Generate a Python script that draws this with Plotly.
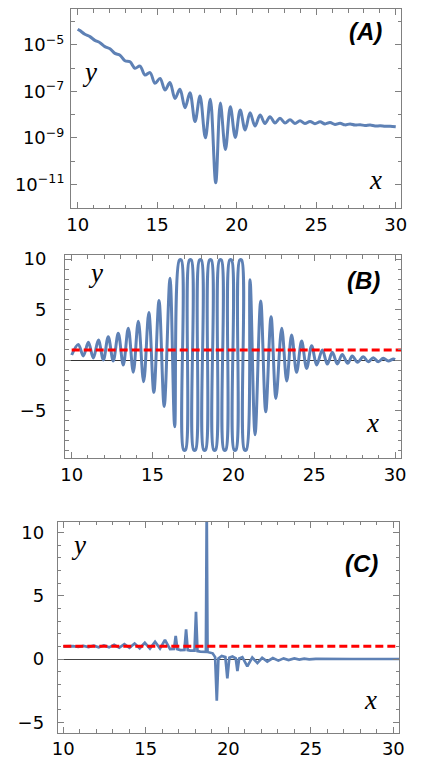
import plotly.graph_objects as go

# panel A: x and log10(y) (peaks and dips)
a_x = [10.00, 10.14, 10.45, 10.77, 11.08, 11.40, 11.71, 12.03, 12.34, 12.66, 12.97,
       13.29, 13.60, 13.92, 14.23, 14.55, 14.86, 15.18, 15.49, 15.80, 16.12, 16.43,
       16.75, 17.06, 17.38, 17.69, 18.03, 18.34, 18.68, 18.97, 19.29, 19.60, 19.91,
       20.22, 20.53, 20.84, 21.15, 21.47, 21.78, 22.09, 22.41, 22.72, 23.04, 23.35,
       23.66, 23.98, 24.29, 24.61, 24.92, 25.24, 25.55, 25.87, 26.18, 26.50, 26.81,
       27.13, 27.44, 27.76, 28.07, 28.39, 28.70, 29.02, 29.33, 29.65, 30.00]
a_log10 = [-4.32, -4.38, -4.54, -4.64, -4.80, -4.90, -5.07, -5.16, -5.36, -5.44, -5.68,
           -5.72, -6.00, -5.91, -6.29, -6.19, -6.65, -6.44, -6.94, -6.62, -7.30, -6.91,
           -7.70, -7.06, -8.30, -7.20, -9.00, -7.34, -10.93, -7.50, -9.50, -7.66, -8.98,
           -7.80, -8.66, -7.92, -8.49, -8.02, -8.38, -8.09, -8.36, -8.16, -8.36, -8.22,
           -8.38, -8.26, -8.38, -8.29, -8.39, -8.31, -8.40, -8.34, -8.42, -8.37, -8.44,
           -8.40, -8.45, -8.43, -8.47, -8.45, -8.49, -8.48, -8.50, -8.50, -8.52]
a_y = [10 ** v for v in a_log10]

# panel B (the tall swings are cut flat at 9.9 and -8.9)
b_x = [10.00, 10.41, 10.72, 11.03, 11.34, 11.65, 11.96, 12.26, 12.57, 12.88, 13.19,
       13.50, 13.81, 14.12, 14.45, 14.77, 15.08, 15.40, 15.72, 16.08, 16.37,
       16.66, 16.78, 16.92, 17.04, 17.28, 17.40, 17.54, 17.66, 17.90, 18.02,
       18.16, 18.28, 18.52, 18.64, 18.78, 18.90, 19.14, 19.26, 19.41, 19.53,
       19.77, 19.89, 20.04, 20.16, 20.39, 20.51, 20.68, 20.80,
       21.03, 21.34, 21.69, 22.00, 22.33, 22.63, 22.99, 23.30, 23.60,
       23.91, 24.22, 24.53, 24.84, 25.15, 25.50, 25.81, 26.12, 26.43, 26.73, 27.07,
       27.35, 27.68, 28.03, 28.34, 28.65, 28.96, 29.27, 29.58, 29.89, 30.00]
b_y = [0.50, 1.55, 0.40, 1.75, 0.20, 1.98, 0.00, 2.30, -0.10, 2.64, -0.50,
       3.14, -1.20, 3.85, -2.15, 4.70, -3.20, 5.90, -4.60, 8.09, -6.60,
       9.90, 9.90, -8.90, -8.90, 9.90, 9.90, -8.90, -8.90, 9.90, 9.90,
       -8.90, -8.90, 9.90, 9.90, -8.90, -8.90, 9.90, 9.90, -8.90, -8.90,
       9.90, 9.90, -8.90, -8.90, 9.90, 9.90, -8.90, -8.90,
       7.95, -7.40, 5.84, -5.12, 4.29, -3.80, 3.14, -2.08, 2.48,
       -1.22, 1.88, -0.83, 1.42, -0.50, 0.99, -0.40, 0.76, -0.40, 0.56, -0.33,
       0.40, -0.23, 0.33, -0.17, 0.23, -0.17, 0.17, -0.10, 0.10, 0.05]

# panel C
c_x = [10.00, 10.60, 10.91, 11.22, 11.53, 11.84, 12.15, 12.46, 12.77, 13.08, 13.39,
       13.70, 14.01, 14.32, 14.63, 14.94, 15.25, 15.56, 15.86, 16.16, 16.47, 16.71,
       16.81, 16.91, 17.10, 17.34, 17.44, 17.54, 17.70, 17.95, 18.04, 18.13, 18.30,
       18.64, 18.69, 18.74, 19.05, 19.20, 19.30, 19.40, 19.60, 19.82, 19.94, 20.06,
       20.25, 20.45, 20.55, 20.66, 20.85, 21.15, 21.45, 21.76, 22.05, 22.36, 22.70,
       23.03, 23.35, 23.65, 24.00, 24.30, 24.60, 24.90, 25.30, 26.00, 27.50, 29.00,
       30.40]
c_y = [1.00, 1.02, 0.95, 1.03, 0.94, 1.05, 0.93, 1.08, 0.92, 1.12, 0.90,
       1.17, 0.88, 1.22, 0.85, 1.28, 0.82, 1.37, 0.82, 1.50, 0.78, 0.80,
       1.82, 0.78, 0.71, 0.72, 2.35, 0.70, 0.66, 0.66, 3.74, 0.62, 0.58,
       0.56, 12.0, 0.55, 0.45, 0.15, -3.30, 0.05, 0.24, 0.15, -1.53, 0.10,
       0.20, 0.05, -0.95, 0.05, 0.15, -0.58, 0.12, -0.32, 0.10, -0.20, 0.07,
       -0.13, 0.05, -0.08, 0.04, -0.05, 0.03, -0.03, 0.01, -0.01, 0.00, 0.00,
       0.00]

# dashed reference level in B and C
ref_x = [10.0, 31.0]
ref_y = [1.0, 1.0]

x_ticks = [10, 15, 20, 25, 30]
x_minor = list(range(10, 31))
a_ticks = [1e-11, 1e-9, 1e-7, 1e-5]
a_ticktext = ["10<sup>\u221211</sup>", "10<sup>\u22129</sup>", "10<sup>\u22127</sup>", "10<sup>\u22125</sup>"]
a_minor = [1e-12, 1e-10, 1e-8, 1e-6, 1e-4]
bc_ticks = [-5, 0, 5, 10]
bc_ticktext = ["\u22125", "0", "5", "10"]
bc_minor = list(range(-9, 11))

BLUE = "#5E81B5"
FRAME = "#808080"
TICKFONT = dict(family="DejaVu Sans", size=18, color="black")

fig = go.Figure()
fig.add_trace(go.Scatter(x=a_x, y=a_y, mode="lines", line=dict(color=BLUE, width=3, shape="spline"),
                         xaxis="x", yaxis="y"))
fig.add_trace(go.Scatter(x=b_x, y=b_y, mode="lines", line=dict(color=BLUE, width=3, shape="spline"),
                         xaxis="x2", yaxis="y2"))
fig.add_trace(go.Scatter(x=ref_x, y=ref_y, mode="lines", line=dict(color="red", width=3, dash="8px,4px"),
                         xaxis="x2", yaxis="y2"))
fig.add_trace(go.Scatter(x=c_x, y=c_y, mode="lines", line=dict(color=BLUE, width=2.7),
                         xaxis="x3", yaxis="y3"))
fig.add_trace(go.Scatter(x=ref_x, y=ref_y, mode="lines", line=dict(color="red", width=3, dash="8px,4px"),
                         xaxis="x3", yaxis="y3"))


def frame_axis(domain, rng, anchor, tickvals, minor_vals, standoff, ticktext=None, **kw):
    ax = dict(domain=domain, range=rng, anchor=anchor, showline=True, linecolor=FRAME, linewidth=1,
              mirror="allticks", ticks="inside", ticklen=6, tickcolor=FRAME, tickwidth=1,
              tickvals=tickvals, showgrid=False, zeroline=False, tickfont=TICKFONT,
              ticklabelstandoff=standoff, automargin=False,
              minor=dict(ticks="inside", ticklen=3.5, tickcolor=FRAME, tickwidth=1,
                         tickmode="array", tickvals=minor_vals, showgrid=False))
    if ticktext is not None:
        ax["ticktext"] = ticktext
    ax.update(kw)
    return ax


# the page body adds an 8px margin, so page pixels are shifted by OFF
W, H, OFF = 425, 762, 8


def fx(px):
    return (px - OFF) / W


def fy(py):
    return 1 - (py - OFF) / H


fig.update_layout(
    width=W, height=H, margin=dict(l=0, r=0, t=0, b=0),
    paper_bgcolor="white", plot_bgcolor="white", showlegend=False,
    xaxis=frame_axis([fx(71), fx(401)], [9.58, 30.33], "y", x_ticks, x_minor, 0),
    yaxis=frame_axis([fy(208), fy(9)], [-12.02, -3.45], "x", a_ticks, a_minor, 2,
                     ticktext=a_ticktext, type="log"),
    xaxis2=frame_axis([fx(65), fx(401)], [9.586, 30.365], "y2", x_ticks, x_minor, 0),
    yaxis2=frame_axis([fy(458), fy(255)], [-9.70, 10.40], "x2", bc_ticks, bc_minor, 14,
                      ticktext=bc_ticktext, zeroline=True, zerolinecolor="#333333", zerolinewidth=1),
    xaxis3=frame_axis([fx(57.7), fx(399.3)], [9.66, 30.36], "y3", x_ticks, x_minor, 0),
    yaxis3=frame_axis([fy(732.7), fy(521.7)], [-5.83, 10.86], "x3", bc_ticks, bc_minor, 9,
                      ticktext=bc_ticktext, zeroline=True, zerolinecolor="#444444", zerolinewidth=1),
)


def label(text, px, py, family, size):
    fig.add_annotation(text=text, x=fx(px), y=fy(py), xref="paper", yref="paper",
                       xanchor="center", yanchor="middle", showarrow=False,
                       font=dict(family=family, size=size, color="black"))


for t, px, py in [("(A)", 365, 31), ("(B)", 363, 280), ("(C)", 361, 563)]:
    label("<b><i>" + t + "</i></b>", px, py, "Liberation Sans", 24)
for t, px, py in [("y", 89, 72), ("x", 375, 180), ("y", 95, 273), ("x", 372, 423),
                  ("y", 78, 545), ("x", 370, 700)]:
    label("<i>" + t + "</i>", px, py, "Liberation Serif", 27)

fig.write_html("out.html")
